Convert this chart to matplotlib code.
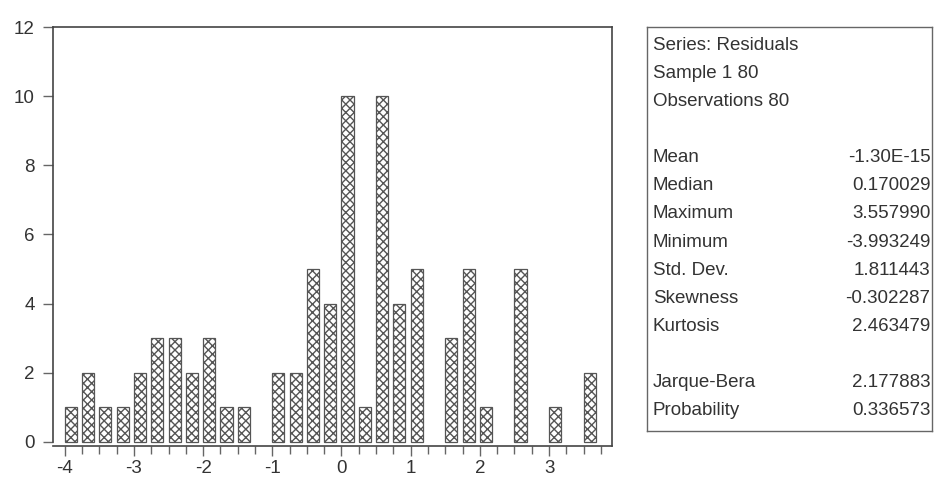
import numpy as np
import matplotlib
matplotlib.use("Agg")
import matplotlib.pyplot as plt

plt.rcParams['font.family'] = ['Liberation Sans', 'DejaVu Sans']
plt.rcParams['axes.unicode_minus'] = False
plt.rcParams['hatch.color'] = '#333333'
plt.rcParams['hatch.linewidth'] = 1.0

# histogram of residuals, bin width 0.25 starting at -4
bin_left = [-4.0, -3.75, -3.5, -3.25, -3.0, -2.75, -2.5, -2.25, -2.0, -1.75,
            -1.5, -1.25, -1.0, -0.75, -0.5, -0.25, 0.0, 0.25, 0.5, 0.75,
            1.0, 1.25, 1.5, 1.75, 2.0, 2.25, 2.5, 2.75, 3.0, 3.25, 3.5]
counts = [1, 2, 1, 1, 2, 3, 3, 2, 3, 1,
          1, 0, 2, 2, 5, 4, 10, 1, 10, 4,
          5, 0, 3, 5, 1, 0, 5, 0, 1, 0, 2]

stat_names = ["Mean", "Median", "Maximum", "Minimum", "Std. Dev.",
              "Skewness", "Kurtosis"]
stat_values = ["-1.30E-15", "0.170029", "3.557990", "-3.993249",
               "1.811443", "-0.302287", "2.463479"]
test_names = ["Jarque-Bera", "Probability"]
test_values = ["2.177883", "0.336573"]
header = ["Series: Residuals", "Sample 1 80", "Observations 80"]

txt = '#333333'
edge = '#444444'

fig = plt.figure(figsize=(9.35, 4.79), dpi=100)
ax = fig.add_axes([53 / 935, 33 / 479, (612 - 53) / 935, (446 - 27) / 479])

x = np.array(bin_left)
h = np.array(counts)
keep = h > 0
ax.bar(x[keep], h[keep], width=0.175, align='edge', color='white',
       edgecolor='#555555', linewidth=0.9, hatch='xxxx')

ax.set_xlim(-4.17, 3.91)
ax.set_ylim(-0.12, 12)
ax.set_xticks(np.arange(-4, 4, 1))
ax.set_xticks(np.arange(-4, 3.76, 0.25), minor=True)
ax.set_yticks(np.arange(0, 13, 2))
ax.spines['left'].set_bounds(0, 12)
for s in ax.spines.values():
    s.set_color(edge)
    s.set_linewidth(1.2)
ax.tick_params(axis='both', colors='#666666', labelcolor=txt, labelsize=13.5,
               direction='out', length=7, width=1)
ax.tick_params(axis='x', which='minor', colors='#666666', direction='out',
               length=6, width=1)
ax.tick_params(axis='y', pad=6)
ax.tick_params(axis='x', pad=3)

# statistics box
bx = fig.add_axes([647 / 935, (479 - 431) / 479, (932 - 647) / 935,
                   (431 - 27) / 479])
bx.set_xticks([])
bx.set_yticks([])
bx.set_xlim(0, 1)
bx.set_ylim(0, 1)
for s in bx.spines.values():
    s.set_color('#666666')
    s.set_linewidth(1.0)

line_h = 28.15 / 404
y0 = 1 - 18 / 404
rows = []
for t in header:
    rows.append((t, ""))
rows.append(("", ""))
for n, v in zip(stat_names, stat_values):
    rows.append((n, v))
rows.append(("", ""))
for n, v in zip(test_names, test_values):
    rows.append((n, v))
for i, (n, v) in enumerate(rows):
    yy = y0 - i * line_h
    bx.text(0.02, yy, n, ha='left', va='center', fontsize=13.5, color=txt)
    bx.text(0.995, yy, v, ha='right', va='center', fontsize=13.5, color=txt)

fig.savefig("out.png", dpi=100, facecolor='white')
